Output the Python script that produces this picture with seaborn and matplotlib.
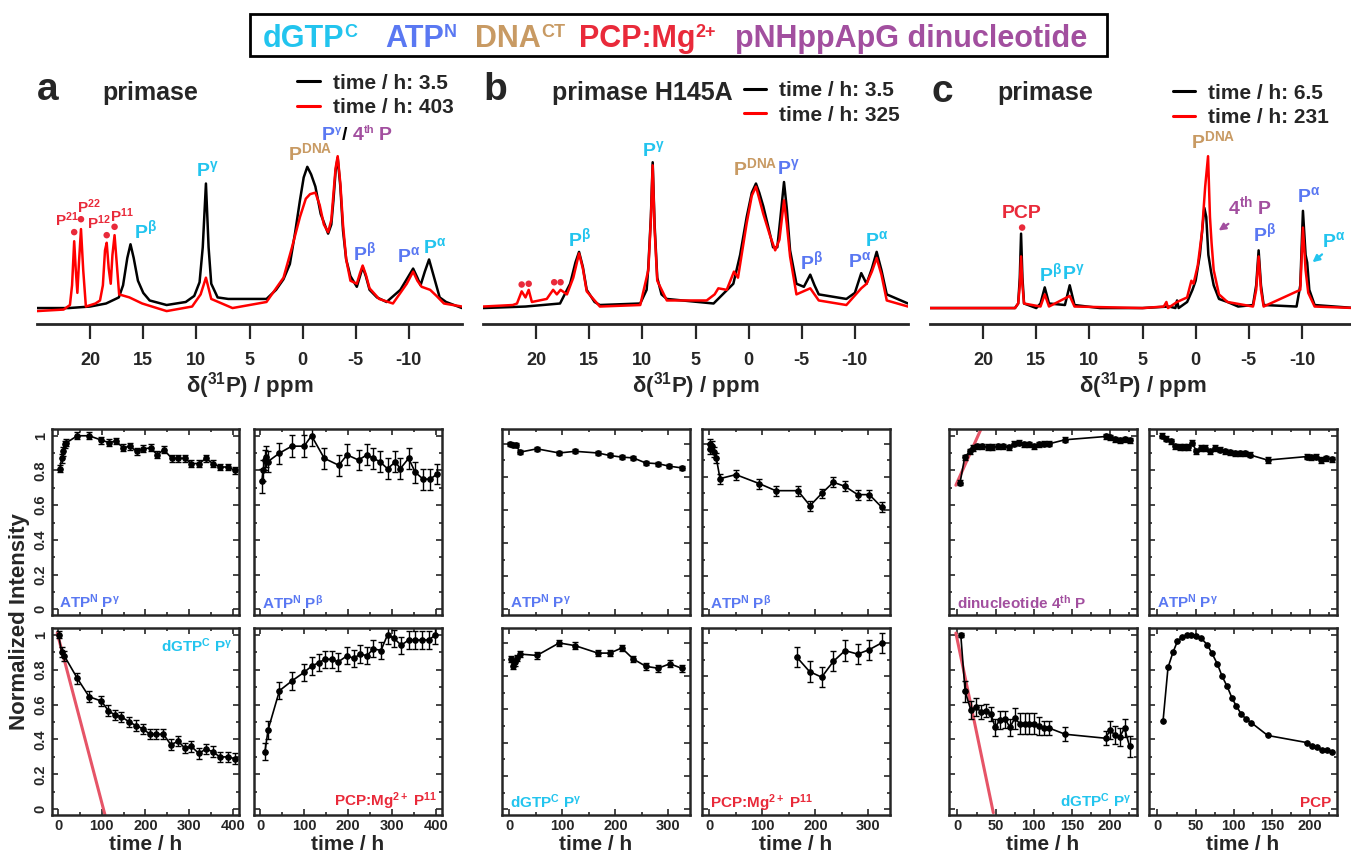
import matplotlib
matplotlib.use("Agg")
import matplotlib.pyplot as plt
from matplotlib.ticker import MultipleLocator
from matplotlib.patches import Rectangle
import seaborn as sns

# colours used in the figure
CYAN = "#22c4ee"
BLUE = "#5a78f2"
TAN = "#c89a63"
RED = "#e92a3a"
PURPLE = "#a24f9f"
FIT = "#e65467"

# ---------------- 31P spectra (ppm, normalised intensity) ----------------
spec_a_ppm_early = [25, 22, 20, 18.5, 17.3, 16.9, 16.5, 16.2, 15.9, 15.5, 15, 14.4, 12.8, 11, 10.2, 9.7,
                    9.4, 9.1, 8.85, 8.6, 8, 7, 5, 3.4, 2.5, 1.8, 1.2, 0.7, 0.25, -0.1, -0.44, -0.8, -1.2,
                    -1.7, -2.4, -2.7, -2.9, -3.1, -3.3, -3.55, -3.8, -4.1, -4.5, -5.1, -5.4, -5.65, -5.95,
                    -6.3, -7, -7.9, -9.2, -9.8, -10.4, -10.8, -11.1, -11.5, -11.9, -12.3, -12.9, -13.5, -15]
spec_a_int_early = [0, 0, 0.01, 0.03, 0.07, 0.15, 0.33, 0.42, 0.33, 0.18, 0.1, 0.05, 0.02, 0.04, 0.08, 0.17,
                    0.4, 0.82, 0.4, 0.16, 0.07, 0.06, 0.06, 0.06, 0.12, 0.19, 0.29, 0.5, 0.71, 0.86, 0.93, 0.88,
                    0.8, 0.62, 0.49, 0.55, 0.71, 0.9, 0.99, 0.8, 0.51, 0.32, 0.21, 0.14, 0.21, 0.27, 0.21,
                    0.12, 0.07, 0.04, 0.12, 0.19, 0.26, 0.2, 0.15, 0.24, 0.32, 0.22, 0.07, 0.04, 0]
spec_a_ppm_late = [25, 22.5, 21.9, 21.7, 21.5, 21.35, 21.2, 21.05, 20.86, 20.65, 20.4, 19.5, 19.07, 18.8,
                   18.6, 18.44, 18.25, 18.06, 17.9, 17.7, 17.5, 17.27, 16.3, 15.1, 12.8, 10.4, 9.6, 9.1, 8.6,
                   6.6, 3.4, 1.8, 1, 0.25, -0.3, -0.7, -1.2, -1.6, -2, -2.4, -2.7, -2.9, -3.1, -3.3, -3.55,
                   -3.8, -4.1, -4.5, -5.1, -5.4, -5.65, -5.95, -6.3, -7.2, -8.5, -9.8, -10.4, -10.8, -11.2,
                   -12, -12.6, -13.3, -15]
spec_a_int_late = [-0.02, -0.01, 0.02, 0.15, 0.44, 0.25, 0.1, 0.3, 0.52, 0.25, 0.01, 0.03, 0.05, 0.15,
                   0.38, 0.43, 0.26, 0.16, 0.35, 0.48, 0.3, 0.09, 0.07, 0.03, -0.02, 0.01, 0.09, 0.2, 0.06,
                   0, 0.04, 0.2, 0.4, 0.6, 0.72, 0.75, 0.76, 0.68, 0.55, 0.5, 0.58, 0.75, 0.92, 1.0, 0.82,
                   0.55, 0.32, 0.18, 0.16, 0.23, 0.28, 0.22, 0.13, 0.06, 0.03, 0.16, 0.24, 0.18, 0.14,
                   0.12, 0.08, 0.03, 0.01]

spec_b_ppm_early = [25, 21, 17.75, 16.8, 16.3, 15.96, 15.6, 15.24, 14.5, 14, 10.2, 9.6, 9.44, 9.2, 9.03,
                    8.85, 8.6, 8.2, 7.7, 3.3, 1.44, 0.8, 0.18, -0.3, -0.69, -1, -1.38, -1.9, -2.3, -2.7, -3,
                    -3.33, -3.6, -3.9, -4.5, -5.2, -5.8, -6.2, -6.6, -9.2, -10, -10.6, -11.1, -11.6, -12.05,
                    -12.5, -13, -15]
spec_b_int_early = [0, 0.01, 0.03, 0.16, 0.3, 0.37, 0.27, 0.12, 0.04, 0.02, 0.03, 0.12, 0.27, 0.6, 0.96,
                    0.55, 0.2, 0.09, 0.06, 0.03, 0.16, 0.35, 0.6, 0.76, 0.82, 0.76, 0.67, 0.52, 0.4, 0.4, 0.6,
                    0.83, 0.65, 0.38, 0.16, 0.14, 0.22, 0.15, 0.09, 0.06, 0.1, 0.23, 0.16, 0.26, 0.37,
                    0.25, 0.09, 0.03]
spec_b_ppm_late = [25, 22.2, 21.8, 21.36, 21, 20.7, 20.4, 19, 18.4, 18.05, 17.7, 17.1, 16.5, 15.96, 15.6,
                   15.24, 14, 10.2, 9.44, 9.2, 9.03, 8.85, 8.6, 7.7, 3.95, 3.2, 2.85, 2.06, 1.38, 1, 0.18,
                   -0.3, -0.69, -1, -1.38, -2, -2.5, -2.9, -3.33, -3.6, -3.9, -4.5, -5.8, -6.6, -9.2, -10.6,
                   -11.1, -11.6, -12.05, -12.5, -13, -15]
spec_b_int_late = [0.01, 0.02, 0.03, 0.11, 0.07, 0.12, 0.04, 0.06, 0.12, 0.09, 0.12, 0.09, 0.2, 0.36, 0.26,
                   0.11, 0.01, 0.02, 0.25, 0.58, 0.94, 0.52, 0.18, 0.05, 0.05, 0.09, 0.13, 0.12, 0.24, 0.2,
                   0.56, 0.74, 0.8, 0.72, 0.62, 0.48, 0.38, 0.45, 0.71, 0.55, 0.34, 0.09, 0.13, 0.05, 0.02,
                   0.13, 0.16, 0.24, 0.33, 0.22, 0.05, 0.01]

spec_c_ppm_early = [25, 17, 16.7, 16.55, 16.43, 16.3, 16.15, 15, 14.6, 14.2, 13.8, 12.3, 11.85, 11.4, 9, 5,
                    2.5, 1.9, 1.75, 1.6, 0.8, 0.3, 0, -0.4, -0.82, -1, -1.2, -1.45, -1.7, -2.2, -3, -4, -5.4,
                    -5.7, -5.93, -6.15, -6.4, -9.5, -9.85, -10.1, -10.35, -10.5, -10.7, -11.2, -15]
spec_c_int_early = [0, 0, 0.03, 0.2, 0.49, 0.2, 0.03, 0, 0.03, 0.136, 0.03, 0.02, 0.15, 0.02, 0, 0,
                    0.01, 0, 0.05, 0, 0.04, 0.12, 0.18, 0.35, 0.66, 0.6, 0.35, 0.24, 0.15, 0.06, 0.04, 0.01, 0.02,
                    0.15, 0.38, 0.15, 0.02, 0.01, 0.15, 0.64, 0.35, 0.3, 0.12, 0.02, 0]
spec_c_ppm_late = [25, 17, 16.7, 16.55, 16.43, 16.3, 16.15, 14.6, 14.2, 13.8, 11.85, 11.4, 5, 3, 2.75, 2.6,
                   1.75, 0.8, 0.4, 0.2, -0.2, -0.6, -0.9, -1.17, -1.35, -1.5, -1.7, -2.2, -3, -5.4, -5.7,
                   -5.93, -6.15, -6.4, -9.85, -10.1, -10.35, -10.6, -11.2, -15]
spec_c_int_late = [0, 0, 0.03, 0.15, 0.34, 0.15, 0.03, 0.01, 0.09, 0.01, 0.08, 0.01, 0, 0.01, 0.04, 0,
                   0.04, 0.07, 0.18, 0.16, 0.28, 0.5, 0.8, 1.0, 0.6, 0.43, 0.25, 0.09, 0.04, 0.01, 0.12,
                   0.34, 0.12, 0.01, 0.12, 0.53, 0.25, 0.1, 0.01, 0]

# red dots marking PCP:Mg2+ signals
dots_a_ppm = [21.5, 20.86, 18.44, 17.7]
dots_a_int = [0.5, 0.585, 0.48, 0.535]
dots_b_ppm = [21.36, 20.7, 18.3, 17.7]
dots_b_int = [0.155, 0.16, 0.17, 0.17]
dots_c_ppm = [16.33]
dots_c_int = [0.53]

# ---------------- time courses (time / h, normalised intensity, error) ----------------
a_atp_g_t = [4, 8, 12, 15, 19, 44, 71, 99, 117, 132, 149, 164, 180, 195, 212, 227, 242, 260, 275, 290,
             305, 323, 338, 354, 370, 388, 405]
a_atp_g_v = [0.81, 0.87, 0.91, 0.95, 0.96, 1.0, 1.0, 0.975, 0.96, 0.97, 0.93, 0.94, 0.91, 0.925, 0.93,
             0.89, 0.92, 0.87, 0.87, 0.87, 0.84, 0.84, 0.87, 0.84, 0.82, 0.82, 0.8]
a_atp_g_e = [0.02, 0.025, 0.025, 0.02, 0.02, 0.02, 0.02, 0.02, 0.02, 0.02, 0.02, 0.02, 0.02, 0.02, 0.02,
             0.02, 0.02, 0.02, 0.02, 0.02, 0.02, 0.02, 0.02, 0.02, 0.02, 0.02, 0.02]

a_atp_b_t = [4, 7, 10, 13, 17, 44, 72, 100, 117, 146, 179, 198, 224, 243, 258, 273, 290, 308, 319, 338,
             353, 371, 387, 403]
a_atp_b_v = [0.74, 0.8, 0.86, 0.88, 0.85, 0.9, 0.94, 0.94, 1.0, 0.87, 0.83, 0.89, 0.86, 0.89, 0.87, 0.85,
             0.81, 0.85, 0.81, 0.87, 0.79, 0.75, 0.75, 0.78]
a_atp_b_e = [0.07, 0.06, 0.06, 0.06, 0.06, 0.06, 0.065, 0.065, 0.06, 0.06, 0.06, 0.06, 0.06, 0.06, 0.06,
             0.06, 0.06, 0.06, 0.06, 0.06, 0.06, 0.06, 0.06, 0.06]

a_dgtp_t = [1, 8, 14, 44, 71, 99, 115, 130, 145, 163, 178, 195, 210, 225, 241, 258, 275, 290, 305, 322,
            338, 354, 370, 388, 405]
a_dgtp_v = [1.0, 0.9, 0.88, 0.75, 0.645, 0.62, 0.565, 0.54, 0.53, 0.5, 0.48, 0.46, 0.43, 0.43, 0.43, 0.37,
            0.39, 0.35, 0.36, 0.32, 0.345, 0.33, 0.3, 0.3, 0.29]
a_dgtp_e = [0.02, 0.03, 0.03, 0.03, 0.03, 0.03, 0.03, 0.03, 0.03, 0.03, 0.03, 0.03, 0.03, 0.03, 0.03,
            0.03, 0.03, 0.03, 0.03, 0.03, 0.03, 0.03, 0.03, 0.03, 0.03]
a_dgtp_fit_t = [-2, 107]
a_dgtp_fit_v = [1.01, -0.03]

a_pcp_t = [11, 18, 44, 72, 100, 117, 133, 148, 163, 178, 198, 213, 228, 243, 258, 275, 290, 305, 321, 338,
           353, 368, 384, 399]
a_pcp_v = [0.33, 0.455, 0.68, 0.735, 0.785, 0.82, 0.84, 0.86, 0.86, 0.845, 0.88, 0.865, 0.89, 0.88, 0.92,
           0.91, 1.0, 0.98, 0.94, 0.97, 0.97, 0.97, 0.97, 1.0]
a_pcp_e = [0.05, 0.05, 0.05, 0.05, 0.05, 0.05, 0.05, 0.05, 0.05, 0.05, 0.05, 0.05, 0.05, 0.05, 0.05,
           0.05, 0.05, 0.05, 0.05, 0.05, 0.05, 0.05, 0.05, 0.05]

b_atp_g_t = [1, 6, 12, 20, 52, 94, 124, 167, 189, 212, 234, 257, 281, 302, 325]
b_atp_g_v = [1.0, 0.996, 0.996, 0.95, 0.97, 0.945, 0.955, 0.945, 0.93, 0.92, 0.915, 0.885, 0.88, 0.865, 0.855]
b_atp_g_e = [0.012, 0.012, 0.012, 0.012, 0.012, 0.012, 0.012, 0.012, 0.012, 0.012, 0.012, 0.012, 0.012,
             0.012, 0.012]

b_atp_b_t = [1, 2, 5, 8, 13, 20, 50, 94, 125, 167, 190, 212, 234, 256, 280, 302, 325]
b_atp_b_v = [1.0, 0.97, 0.99, 0.95, 0.915, 0.79, 0.814, 0.76, 0.717, 0.717, 0.626, 0.7, 0.768, 0.743,
             0.693, 0.693, 0.618]
b_atp_b_e = [0.03, 0.03, 0.03, 0.03, 0.03, 0.03, 0.03, 0.03, 0.03, 0.03, 0.03, 0.03, 0.03, 0.03, 0.03,
             0.03, 0.03]

b_dgtp_t = [3, 6, 11, 15, 20, 52, 94, 124, 167, 190, 212, 234, 258, 281, 303, 325]
b_dgtp_v = [0.903, 0.863, 0.883, 0.909, 0.933, 0.925, 1.0, 0.984, 0.939, 0.939, 0.97, 0.903, 0.859, 0.848,
            0.875, 0.848]
b_dgtp_e = [0.02, 0.02, 0.02, 0.02, 0.02, 0.02, 0.02, 0.02, 0.02, 0.02, 0.02, 0.02, 0.02, 0.02, 0.02, 0.02]

b_pcp_t = [165, 189, 212, 234, 256, 280, 302, 325]
b_pcp_v = [0.915, 0.828, 0.794, 0.889, 0.954, 0.933, 0.96, 1.0]
b_pcp_e = [0.06, 0.065, 0.06, 0.06, 0.065, 0.06, 0.06, 0.06]

c_dinuc_t = [3.5, 9.6, 16.2, 20.6, 26.2, 32.8, 39.4, 45.9, 53.4, 59.9, 66.9, 74.4, 80.0, 87.5, 94.0, 100.6,
             107.2, 113.7, 120.3, 140.9, 194.7, 200.0, 205.6, 212.2, 218.7, 225.3]
c_dinuc_v = [0.73, 0.877, 0.91, 0.93, 0.94, 0.94, 0.935, 0.935, 0.94, 0.94, 0.933, 0.954, 0.96, 0.95, 0.95,
             0.94, 0.95, 0.954, 0.954, 0.977, 0.996, 0.992, 0.98, 0.973, 0.98, 0.973]
c_dinuc_e = [0.015, 0.015, 0.015, 0.015, 0.015, 0.015, 0.015, 0.015, 0.015, 0.015, 0.015, 0.015, 0.015,
             0.015, 0.015, 0.015, 0.015, 0.015, 0.015, 0.015, 0.015, 0.015, 0.015, 0.015, 0.015, 0.015]
c_dinuc_fit_t = [-2, 31]
c_dinuc_fit_v = [0.715, 1.04]

c_atp_g_t = [6.5, 11.8, 17.5, 23.6, 29.3, 34.9, 40.0, 45.4, 51.1, 56.8, 62.9, 68.6, 75.1, 81.7, 88.2, 94.8,
             101.3, 107.9, 114.4, 121.0, 144.1, 195.2, 200.9, 207.4, 214.0, 220.1, 227.9]
c_atp_g_v = [1.0, 0.983, 0.967, 0.94, 0.935, 0.935, 0.935, 0.96, 0.91, 0.93, 0.93, 0.91, 0.93, 0.92, 0.91,
             0.905, 0.9, 0.9, 0.9, 0.89, 0.86, 0.88, 0.875, 0.88, 0.86, 0.87, 0.865]
c_atp_g_e = [0.015, 0.015, 0.015, 0.015, 0.015, 0.015, 0.015, 0.015, 0.015, 0.015, 0.015, 0.015, 0.015,
             0.015, 0.015, 0.015, 0.015, 0.015, 0.015, 0.015, 0.015, 0.015, 0.015, 0.015, 0.015, 0.015, 0.015]

c_dgtp_t = [4.4, 10.1, 17.5, 24.0, 30.6, 38.0, 43.7, 49.4, 55.6, 62.6, 68.7, 75.2, 81.8, 88.4, 94.0, 100.6,
            107.2, 113.7, 120.3, 140.9, 193.8, 200.0, 205.6, 212.2, 218.7, 225.3]
c_dgtp_v = [1.0, 0.675, 0.57, 0.585, 0.56, 0.566, 0.547, 0.47, 0.512, 0.516, 0.47, 0.522, 0.49, 0.49, 0.49,
            0.49, 0.478, 0.465, 0.465, 0.43, 0.407, 0.455, 0.426, 0.413, 0.465, 0.36]
c_dgtp_e = [0.01, 0.06, 0.05, 0.05, 0.04, 0.04, 0.04, 0.05, 0.05, 0.05, 0.05, 0.06, 0.06, 0.06, 0.06, 0.06,
            0.05, 0.04, 0.04, 0.04, 0.04, 0.05, 0.05, 0.05, 0.05, 0.06]
c_dgtp_fit_t = [-2, 47]
c_dgtp_fit_v = [1.01, -0.02]

c_pcp_t = [7.4, 13.9, 20.4, 26.1, 32.6, 38.7, 44.3, 50.9, 57.4, 65.2, 71.3, 78.3, 84.8, 91.3, 97.4, 103.0,
           109.6, 116.1, 122.6, 144.3, 195.7, 202.2, 208.3, 214.8, 221.7, 228.3]
c_pcp_v = [0.507, 0.813, 0.9, 0.962, 0.987, 1.0, 1.0, 0.996, 0.98, 0.943, 0.895, 0.834, 0.761, 0.704, 0.64,
           0.593, 0.547, 0.516, 0.497, 0.423, 0.382, 0.36, 0.354, 0.34, 0.34, 0.33]

# ---------------- style ----------------
sns.set_style("ticks")
plt.rcParams['font.family'] = ['Liberation Sans', 'DejaVu Sans']
plt.rcParams['font.weight'] = 'bold'
plt.rcParams['axes.labelweight'] = 'bold'
plt.rcParams['axes.unicode_minus'] = False
plt.rcParams['mathtext.fontset'] = 'custom'
plt.rcParams['mathtext.rm'] = 'Liberation Sans:bold'
plt.rcParams['mathtext.bf'] = 'Liberation Sans:bold'
plt.rcParams['mathtext.it'] = 'Liberation Sans:italic:bold'
plt.rcParams['mathtext.default'] = 'bf'

W, H = 1351, 858
fig = plt.figure(figsize=(W / 100, H / 100), dpi=100)
renderer = fig.canvas.get_renderer()


def box(x0, y0, x1, y1):
    # pixel box -> figure fraction
    return [x0 / W, 1 - y1 / H, (x1 - x0) / W, (y1 - y0) / H]


def ftext(x, y, s, **kw):
    return fig.text(x / W, 1 - y / H, s, **kw)


def text_run(x, y, pieces):
    # pieces: (string, colour, fontsize, rise in px, gap before in px); y is the baseline in px
    for s, c, size, rise, gap in pieces:
        x += gap
        t = ftext(x, y - rise, s, color=c, fontsize=size, va='baseline', ha='left')
        x += t.get_window_extent(renderer=renderer).width
    return x


# legend box on top
fig.add_artist(Rectangle((250 / W, 1 - 56 / H), 857 / W, 42 / H, transform=fig.transFigure,
                         fill=False, lw=2, ec='k'))
text_run(263, 47, [("dGTP", CYAN, 22, 0, 0), ("C", CYAN, 13, 10, 0)])
text_run(385, 47, [("ATP", BLUE, 22, 0, 0), ("N", BLUE, 13, 10, 0)])
text_run(475, 47, [("DNA", TAN, 22, 0, 0), ("CT", TAN, 13, 10, 0)])
text_run(579, 47, [("PCP:Mg", RED, 22, 0, 0), ("2+", RED, 13, 10, 0)])
text_run(735, 47, [("pNHppApG dinucleotide", PURPLE, 22, 0, 0)])


def spectrum(rect, ppm0, int0, ppm1, int1, lab0, lab1, leg_anchor):
    ax = fig.add_axes(box(*rect))
    sns.lineplot(x=ppm0, y=int0, ax=ax, color='k', lw=1.8, sort=False, estimator=None, label=lab0)
    sns.lineplot(x=ppm1, y=int1, ax=ax, color='#ff0000', lw=1.8, sort=False, estimator=None, label=lab1)
    ax.set_xlim(25, -15)
    ax.set_ylim(-0.105, 1.37)
    for s in ['left', 'top', 'right']:
        ax.spines[s].set_visible(False)
    ax.spines['bottom'].set_linewidth(2)
    ax.set_yticks([])
    ax.set_ylabel('')
    ax.set_xticks([20, 15, 10, 5, 0, -5, -10])
    ax.tick_params(axis='x', direction='out', length=11, width=1.6, pad=9, labelsize=13)
    ax.set_xlabel(r"δ($^{31}$P) / ppm", fontsize=16, labelpad=1)
    leg = ax.legend(loc='upper right', bbox_to_anchor=leg_anchor, frameon=False,
                    prop={'weight': 'bold', 'size': 15}, handlelength=1.1, handletextpad=0.6,
                    labelspacing=0.25, borderaxespad=0)
    for ln in leg.get_lines():
        ln.set_linewidth(2.2)
    ax.patch.set_alpha(0)
    return ax


def lab(ax, x, y, s, c, size=14):
    ax.text(x, y, s, color=c, fontsize=size, ha='center', va='center')


def reddots(ax, xs, ys):
    sns.scatterplot(x=xs, y=ys, ax=ax, color=RED, s=22, edgecolor='none', legend=False, zorder=5)


# ---- panel a spectrum
ax = spectrum((37, 100, 462, 324), spec_a_ppm_early, spec_a_int_early, spec_a_ppm_late, spec_a_int_late,
              "time / h: 3.5", "time / h: 403", (1.0, 1.155))
reddots(ax, dots_a_ppm, dots_a_int)
lab(ax, 22.2, 0.58, r"P$^{21}$", RED, 11)
lab(ax, 20.1, 0.665, r"P$^{22}$", RED, 11)
lab(ax, 19.2, 0.56, r"P$^{12}$", RED, 11)
lab(ax, 17.0, 0.61, r"P$^{11}$", RED, 11)
lab(ax, 14.8, 0.51, r"P$^{\beta}$", CYAN)
lab(ax, 9.0, 0.91, r"P$^{\gamma}$", CYAN)
lab(ax, -0.7, 1.02, r"P$^{DNA}$", TAN)
lab(ax, -5.8, 0.37, r"P$^{\beta}$", BLUE)
lab(ax, -9.95, 0.34, r"P$^{\alpha}$", BLUE)
lab(ax, -12.4, 0.40, r"P$^{\alpha}$", CYAN)
text_run(322, 140, [("P", BLUE, 14, 0, 0), ("γ", BLUE, 8, 7, 0), ("/", 'k', 14, 0, 1),
                    ("4", PURPLE, 14, 0, 5), ("th", PURPLE, 8, 7, 0), ("P", PURPLE, 14, 0, 5)])
ftext(48, 90, "a", fontsize=28, ha='center', va='center')
ftext(150, 93, "primase", fontsize=18, ha='center', va='center')

# ---- panel b spectrum
ax = spectrum((483, 100, 908, 324), spec_b_ppm_early, spec_b_int_early, spec_b_ppm_late, spec_b_int_late,
              "time / h: 3.5", "time / h: 325", (1.0, 1.12))
reddots(ax, dots_b_ppm, dots_b_int)
lab(ax, 15.9, 0.46, r"P$^{\beta}$", CYAN)
lab(ax, 8.95, 1.04, r"P$^{\gamma}$", CYAN)
lab(ax, -0.6, 0.92, r"P$^{DNA}$", TAN)
lab(ax, -3.75, 0.92, r"P$^{\gamma}$", BLUE)
lab(ax, -5.9, 0.31, r"P$^{\beta}$", BLUE)
lab(ax, -10.5, 0.31, r"P$^{\alpha}$", BLUE)
lab(ax, -12.05, 0.45, r"P$^{\alpha}$", CYAN)
ftext(495, 90, "b", fontsize=28, ha='center', va='center')
ftext(642, 93, "primase H145A", fontsize=18, ha='center', va='center')

# ---- panel c spectrum
ax = spectrum((930, 100, 1355, 324), spec_c_ppm_early, spec_c_int_early, spec_c_ppm_late, spec_c_int_late,
              "time / h: 6.5", "time / h: 231", (0.958, 1.11))
reddots(ax, dots_c_ppm, dots_c_int)
lab(ax, 16.33, 0.62, "PCP", RED)
lab(ax, 13.7, 0.23, r"P$^{\beta}$", CYAN)
lab(ax, 11.5, 0.23, r"P$^{\gamma}$", CYAN)
lab(ax, -1.7, 1.10, r"P$^{DNA}$", TAN)
lab(ax, -5.15, 0.67, r"4$^{th}$ P", PURPLE)
lab(ax, -6.45, 0.49, r"P$^{\beta}$", BLUE)
lab(ax, -10.6, 0.74, r"P$^{\alpha}$", BLUE)
lab(ax, -13.0, 0.44, r"P$^{\alpha}$", CYAN)
ax.annotate('', xy=(-1.95, 0.50), xytext=(-3.3, 0.565),
            arrowprops=dict(arrowstyle='-|>', color=PURPLE, lw=1.6, mutation_scale=10))
ax.annotate('', xy=(-10.8, 0.29), xytext=(-12.1, 0.365),
            arrowprops=dict(arrowstyle='-|>', color=CYAN, lw=1.6, mutation_scale=10))
ftext(942, 92, "c", fontsize=28, ha='center', va='center')
ftext(1045, 93, "primase", fontsize=18, ha='center', va='center')


# ---------------- time-course panels ----------------
def small(rect, t, v, e, xlim, ylim, xmaj, xmin, xticks_lab, yticks_lab, fit=None):
    ax = fig.add_axes(box(*rect))
    if fit is not None:
        sns.lineplot(x=fit[0], y=fit[1], ax=ax, color=FIT, lw=2.2, sort=False, estimator=None)
    if e is not None:
        ax.errorbar(t, v, yerr=e, fmt='none', ecolor='k', elinewidth=1, capsize=2.5, capthick=1)
    sns.lineplot(x=t, y=v, ax=ax, color='k', lw=1.2, marker='o', markersize=4, markeredgecolor='k',
                 sort=False, estimator=None)
    ax.set_xlim(*xlim)
    ax.set_ylim(*ylim)
    ax.xaxis.set_major_locator(MultipleLocator(xmaj))
    ax.xaxis.set_minor_locator(MultipleLocator(xmin))
    ax.set_yticks([0, 0.2, 0.4, 0.6, 0.8, 1.0])
    ax.yaxis.set_minor_locator(MultipleLocator(0.1))
    ax.tick_params(which='both', direction='in', top=True, right=True, width=1.2)
    ax.tick_params(which='major', length=4)
    ax.tick_params(which='minor', length=2.5)
    for sp in ax.spines.values():
        sp.set_linewidth(1.8)
    if xticks_lab:
        ax.tick_params(axis='x', labelsize=10.5, pad=3)
        ax.set_xlabel("time / h", fontsize=15, labelpad=1)
    else:
        ax.tick_params(axis='x', labelbottom=False)
        ax.set_xlabel('')
    if yticks_lab:
        ax.set_yticklabels(["0", "0.2", "0.4", "0.6", "0.8", "1"])
        ax.tick_params(axis='y', labelsize=10.5, labelrotation=90, pad=3)
        for tl in ax.get_yticklabels():
            tl.set_va('center')
    else:
        ax.tick_params(axis='y', labelleft=False)
    ax.set_ylabel('')
    return ax


def inlabel(ax, x, y, s, c, ha='left', va='baseline'):
    ax.text(x, y, s, color=c, fontsize=11, ha=ha, va=va, transform=ax.transAxes)


ya = (-0.033, 1.039)
yb = (-0.035, 1.09)
row1 = (429, 615)
row2 = (628, 815)

# panel a
ax = small((52, row1[0], 239, row1[1]), a_atp_g_t, a_atp_g_v, a_atp_g_e, (-14, 414), ya, 100, 50, False, True)
inlabel(ax, 0.04, 0.035, r"ATP$^{N}$ P$^{\gamma}$", BLUE)
ax = small((254, row1[0], 442, row1[1]), a_atp_b_t, a_atp_b_v, a_atp_b_e, (-14, 414), ya, 100, 50, False, False)
inlabel(ax, 0.04, 0.035, r"ATP$^{N}$ P$^{\beta}$", BLUE)
ax = small((52, row2[0], 239, row2[1]), a_dgtp_t, a_dgtp_v, a_dgtp_e, (-14, 414), ya, 100, 50, True, True,
           fit=(a_dgtp_fit_t, a_dgtp_fit_v))
inlabel(ax, 0.965, 0.955, r"dGTP$^{C}$ P$^{\gamma}$", CYAN, ha='right', va='top')
ax = small((254, row2[0], 442, row2[1]), a_pcp_t, a_pcp_v, a_pcp_e, (-14, 414), ya, 100, 50, True, False)
inlabel(ax, 0.975, 0.05, r"PCP:Mg$^{2+}$ P$^{11}$", RED, ha='right')

# panel b
ax = small((502, row1[0], 690, row1[1]), b_atp_g_t, b_atp_g_v, b_atp_g_e, (-14, 341), yb, 100, 50, False, False)
inlabel(ax, 0.04, 0.035, r"ATP$^{N}$ P$^{\gamma}$", BLUE)
ax = small((702, row1[0], 890, row1[1]), b_atp_b_t, b_atp_b_v, b_atp_b_e, (-14, 341), yb, 100, 50, False, False)
inlabel(ax, 0.04, 0.035, r"ATP$^{N}$ P$^{\beta}$", BLUE)
ax = small((502, row2[0], 690, row2[1]), b_dgtp_t, b_dgtp_v, b_dgtp_e, (-14, 341), yb, 100, 50, True, False)
inlabel(ax, 0.04, 0.035, r"dGTP$^{C}$ P$^{\gamma}$", CYAN)
ax = small((702, row2[0], 890, row2[1]), b_pcp_t, b_pcp_v, b_pcp_e, (-14, 341), yb, 100, 50, True, False)
inlabel(ax, 0.04, 0.035, r"PCP:Mg$^{2+}$ P$^{11}$", RED)

# panel c
ax = small((949, row1[0], 1137, row1[1]), c_dinuc_t, c_dinuc_v, c_dinuc_e, (-11, 235), ya, 50, 25, False, False,
           fit=(c_dinuc_fit_t, c_dinuc_fit_v))
inlabel(ax, 0.04, 0.035, r"dinucleotide 4$^{th}$ P", PURPLE)
ax = small((1149, row1[0], 1337, row1[1]), c_atp_g_t, c_atp_g_v, c_atp_g_e, (-11, 235), ya, 50, 25, False, False)
inlabel(ax, 0.04, 0.035, r"ATP$^{N}$ P$^{\gamma}$", BLUE)
ax = small((949, row2[0], 1137, row2[1]), c_dgtp_t, c_dgtp_v, c_dgtp_e, (-11, 235), ya, 50, 25, True, False,
           fit=(c_dgtp_fit_t, c_dgtp_fit_v))
inlabel(ax, 0.97, 0.045, r"dGTP$^{C}$ P$^{\gamma}$", CYAN, ha='right')
ax = small((1149, row2[0], 1337, row2[1]), c_pcp_t, c_pcp_v, None, (-11, 235), ya, 50, 25, True, False)
inlabel(ax, 0.97, 0.045, "PCP", RED, ha='right')

ftext(20, 622, "Normalized Intensity", fontsize=16, rotation=90, ha='center', va='center')

fig.savefig("out.png", dpi=100)
